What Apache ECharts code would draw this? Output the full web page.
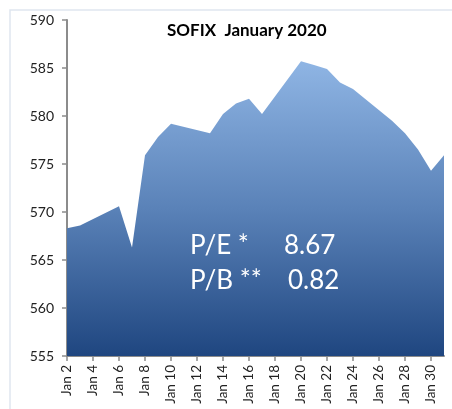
<!DOCTYPE html>
<html>
<head>
<meta charset="utf-8">
<script src="https://cdn.jsdelivr.net/npm/echarts@6/dist/echarts.min.js"></script>
<style>
  html, body { margin: 0; padding: 0; background: #fff; }
  #chart { width: 452px; height: 409px; }
</style>
</head>
<body>
<div id="chart"></div>
<script>
// days of January 2020 shown on the axis
const days = ['Jan 2','Jan 3','Jan 4','Jan 5','Jan 6','Jan 7','Jan 8','Jan 9','Jan 10','Jan 11',
  'Jan 12','Jan 13','Jan 14','Jan 15','Jan 16','Jan 17','Jan 18','Jan 19','Jan 20','Jan 21',
  'Jan 22','Jan 23','Jan 24','Jan 25','Jan 26','Jan 27','Jan 28','Jan 29','Jan 30','Jan 31']
// SOFIX close, null on non-trading days
const sofix = [568.3, 568.6, null, null, 570.6, 566.3, 575.9, 577.8, 579.2, null,
  null, 578.2, 580.2, 581.3, 581.8, 580.2, null, null, 585.7, 585.3,
  584.9, 583.5, 582.8, null, null, 579.5, 578.2, 576.5, 574.3, 575.9]
const ratioLabels = ['P/E *', 'P/B **']
const ratioValues = ['8.67', '0.82']

const font = 'Lato, "Open Sans", sans-serif'
const chart = echarts.init(document.getElementById('chart'))

const option = {
  animation: false,
  title: {
    text: 'SOFIX  January 2020',
    left: 162,
    top: 17,
    textStyle: { fontFamily: font, fontSize: 17, fontWeight: 'bold', color: '#000' }
  },
  grid: { left: 67, right: 8, top: 20, bottom: 53 },
  xAxis: {
    type: 'category',
    data: days,
    boundaryGap: false,
    axisLine: { lineStyle: { color: '#8c8c8c', width: 2 } },
    axisTick: { interval: 1, length: 5, lineStyle: { color: '#8c8c8c', width: 1.5 } },
    axisLabel: {
      interval: 1, rotate: 90, margin: 9,
      fontFamily: font, fontSize: 13.5, color: '#222'
    }
  },
  yAxis: {
    type: 'value',
    min: 555, max: 590, interval: 5,
    splitLine: { show: false },
    axisLine: { show: true, lineStyle: { color: '#8c8c8c', width: 2 } },
    axisTick: { show: true, length: 5, lineStyle: { color: '#8c8c8c', width: 1.5 } },
    axisLabel: { margin: 13, fontFamily: font, fontSize: 14, color: '#222' }
  },
  series: [{
    type: 'line',
    data: sofix,
    connectNulls: true,
    symbol: 'none',
    lineStyle: { width: 0 },
    areaStyle: {
      opacity: 1,
      color: new echarts.graphic.LinearGradient(0, 0, 0, 1, [
        { offset: 0, color: '#8fb5e4' },
        { offset: 0.5, color: '#5a82b8' },
        { offset: 1, color: '#1f4680' }
      ])
    }
  }],
  graphic: [
    { type: 'rect', shape: { x: 10, y: 10, width: 470, height: 420 }, style: { fill: 'none', stroke: '#dfe6f0', lineWidth: 1.5 }, z: -1 },
    { type: 'text', left: 190, top: 233, style: { text: ratioLabels[0], font: '26px ' + font, fill: '#fff' }, z: 10 },
    { type: 'text', left: 284, top: 233, style: { text: ratioValues[0], font: '26px ' + font, fill: '#fff' }, z: 10 },
    { type: 'text', left: 190, top: 268, style: { text: ratioLabels[1], font: '26px ' + font, fill: '#fff' }, z: 10 },
    { type: 'text', left: 288, top: 268, style: { text: ratioValues[1], font: '26px ' + font, fill: '#fff' }, z: 10 }
  ]
}
chart.setOption(option)
</script>
</body>
</html>
